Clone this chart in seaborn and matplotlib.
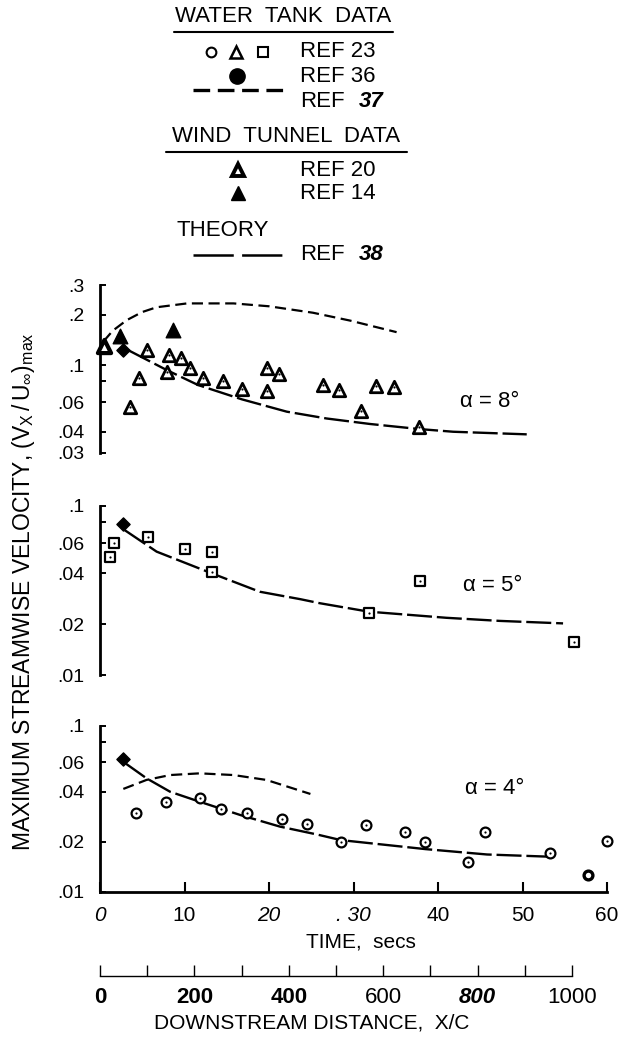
import matplotlib
matplotlib.use("Agg")
import matplotlib.pyplot as plt
import seaborn as sns
import numpy as np

# ---------------- data ----------------
# alpha = 8 deg panel
t8_ref23 = [3.55, 4.58, 5.6, 7.97, 8.17, 9.55, 10.65, 12.23, 14.6, 16.77, 19.72, 19.72,
            21.2, 26.4, 28.3, 30.85, 32.7, 34.8, 37.8]
v8_ref23 = [0.0564, 0.0833, 0.1229, 0.0912, 0.1148, 0.1106, 0.0956, 0.0833, 0.0803, 0.072,
            0.0956, 0.0703, 0.0884, 0.076, 0.071, 0.0534, 0.0753, 0.0737, 0.0425]
t8_ref20 = [0.47]
v8_ref20 = [0.1298]
t8_ref14 = [2.37, 8.68]
v8_ref14 = [0.1496, 0.1617]
t8_ref36 = [2.68]
v8_ref36 = [0.1229]
t8_ref37 = [0.4, 1.5, 3.15, 5.0, 6.7, 10.3, 15.8, 20.0, 25.2, 29.6, 35.1]
v8_ref37 = [0.138, 0.16, 0.185, 0.207, 0.221, 0.233, 0.233, 0.224, 0.205, 0.184, 0.157]
t8_ref38 = [3.3, 7.9, 11.6, 16.8, 22.1, 26.8, 31.95, 37.8, 41.8, 50.5]
v8_ref38 = [0.1229, 0.0933, 0.076, 0.0624, 0.0527, 0.048, 0.0445, 0.0415, 0.040, 0.0386]

# alpha = 5 deg panel
t5_ref23 = [1.18, 1.7, 5.64, 10.1, 13.2, 13.2, 31.8, 37.9, 56.1]
v5_ref23 = [0.0501, 0.0607, 0.0659, 0.0557, 0.0532, 0.0405, 0.0232, 0.036, 0.0157]
t5_ref36 = [2.68]
v5_ref36 = [0.0779]
t5_ref38 = [2.9, 6.7, 13.2, 18.9, 23.7, 26.0, 31.8, 41.0, 47.3, 54.8]
v5_ref38 = [0.0721, 0.0537, 0.040, 0.0311, 0.0281, 0.0266, 0.0237, 0.0218, 0.0209, 0.0202]

# alpha = 4 deg panel
t4_ref23 = [4.26, 7.81, 11.83, 14.3, 17.43, 21.5, 24.5, 28.5, 31.5, 36.1, 38.5, 43.6,
            45.6, 53.2, 60.0]
v4_ref23 = [0.0297, 0.0346, 0.0368, 0.0314, 0.0297, 0.0274, 0.0255, 0.020, 0.0253, 0.023,
            0.020, 0.0151, 0.023, 0.0171, 0.0202]
t4_ref23_plain = [57.7]
v4_ref23_plain = [0.01265]
t4_ref36 = [2.76]
v4_ref36 = [0.0627]
t4_ref37 = [2.76, 5.5, 8.3, 11.8, 15.8, 19.7, 24.9]
v4_ref37 = [0.0416, 0.0471, 0.0504, 0.0516, 0.0504, 0.0471, 0.0388]
t4_ref38 = [2.9, 5.5, 8.3, 11.83, 16.6, 21.3, 25.6, 28.5, 38.5, 45.8, 53.1]
v4_ref38 = [0.0598, 0.0482, 0.040, 0.0348, 0.029, 0.0247, 0.0222, 0.0205, 0.0181, 0.0168, 0.0163]

# axes ticks / labels
time_ticks = [0, 10, 20, 30, 40, 50, 60]
time_labels = ["0", "10", "20", ". 30", "40", "50", "60"]
dist_ticks = [0, 100, 200, 300, 400, 500, 600, 700, 800, 900, 1000]
dist_labels = ["0", "", "200", "", "400", "", "600", "", "800", "", "1000"]
dist_per_sec = 17.9
yt8 = [0.3, 0.2, 0.1, 0.08, 0.06, 0.04, 0.03]
yl8 = [".3", ".2", ".1", "", ".06", ".04", ".03"]
yt5 = [0.1, 0.08, 0.06, 0.04, 0.02, 0.01]
yl5 = [".1", "", ".06", ".04", ".02", ".01"]
yt4 = [0.1, 0.08, 0.06, 0.04, 0.02, 0.01]
yl4 = [".1", "", ".06", ".04", ".02", ".01"]

# ---------------- style ----------------
sns.set_theme(style="white")
plt.rcParams['font.family'] = ['Liberation Sans', 'DejaVu Sans']
plt.rcParams['mathtext.fontset'] = 'custom'
plt.rcParams['mathtext.rm'] = 'Liberation Sans'
plt.rcParams['mathtext.it'] = 'Liberation Sans:italic'
plt.rcParams['mathtext.bf'] = 'Liberation Sans:bold'
plt.rcParams['lines.scale_dashes'] = False
plt.rcParams['text.color'] = 'black'
plt.rcParams['axes.edgecolor'] = 'black'
plt.rcParams['xtick.color'] = 'black'
plt.rcParams['ytick.color'] = 'black'

W, H = 628, 1040
fig = plt.figure(figsize=(W / 100, H / 100), dpi=100)
fig.patch.set_facecolor('white')


def px_axes(left, top, right, bottom):
    return fig.add_axes([left / W, 1 - bottom / H, (right - left) / W, (bottom - top) / H])


ax8 = px_axes(100, 285, 607, 452.7)
ax5 = px_axes(100, 506, 607, 675)
ax4 = px_axes(100, 725.5, 607, 892)
axd = px_axes(100, 950, 607, 976)

DASH37 = (0, (8, 4))
DASH38 = (0, (18, 3.5))


def open_markers(ax, t, v, marker, s, lw):
    sns.scatterplot(x=t, y=v, marker=marker, s=s, color='white', edgecolor='black',
                    linewidth=lw, ax=ax, zorder=4, clip_on=False)
    sns.scatterplot(x=t, y=v, marker='o', s=2.5, color='black', edgecolor='black',
                    linewidth=0, ax=ax, zorder=5, clip_on=False)


def style_panel(ax, ylim, yt, yl, show_x):
    ax.set_yscale('log')
    ax.set_xlim(0, 60)
    ax.set_ylim(*ylim)
    ax.set_yticks(yt)
    ax.set_yticklabels(yl)
    ax.yaxis.set_minor_locator(matplotlib.ticker.NullLocator())
    ax.tick_params(axis='y', direction='in', length=4, width=1.4, labelsize=14, pad=11,
                   left=True)
    ax.spines['left'].set_linewidth(2.0)
    for sp in ['top', 'right']:
        ax.spines[sp].set_visible(False)
    ax.set_facecolor('none')
    if show_x:
        ax.set_xticks(time_ticks)
        ax.set_xticklabels(time_labels)
        ax.tick_params(axis='x', direction='in', length=7, width=1.5, labelsize=15, pad=10,
                       bottom=True)
        ax.spines['bottom'].set_linewidth(2.0)
        for lab, txt in zip(ax.get_xticklabels(), time_labels):
            if txt in ("0", "20", ". 30"):
                lab.set_style('italic')
    else:
        ax.spines['bottom'].set_visible(False)
        ax.tick_params(axis='x', bottom=False, labelbottom=False)
    ax.set_xlabel('')
    ax.set_ylabel('')


# ---- alpha = 8 ----
sns.lineplot(x=t8_ref37, y=v8_ref37, ax=ax8, color='black', lw=1.6, linestyle=DASH37,
             sort=False, errorbar=None)
sns.lineplot(x=t8_ref38, y=v8_ref38, ax=ax8, color='black', lw=1.7, linestyle=DASH38,
             sort=False, errorbar=None)
open_markers(ax8, t8_ref23, v8_ref23, '^', 80, 2.0)
sns.scatterplot(x=t8_ref20, y=v8_ref20, marker='^', s=90, color='white', edgecolor='black',
                linewidth=3.0, ax=ax8, zorder=4, clip_on=False)
sns.scatterplot(x=t8_ref14, y=v8_ref14, marker='^', s=110, color='black', edgecolor='black',
                linewidth=1, ax=ax8, zorder=4, clip_on=False)
sns.scatterplot(x=t8_ref36, y=v8_ref36, marker='D', s=45, color='black', edgecolor='black',
                linewidth=1, ax=ax8, zorder=4, clip_on=False)
style_panel(ax8, (0.03, 0.3), yt8, yl8, False)
ax8.text(42.6, 0.0604, "α = 8°", fontsize=16, va='center', ha='left')

# ---- alpha = 5 ----
sns.lineplot(x=t5_ref38, y=v5_ref38, ax=ax5, color='black', lw=1.7, linestyle=DASH38,
             sort=False, errorbar=None)
open_markers(ax5, t5_ref23, v5_ref23, 's', 55, 1.6)
sns.scatterplot(x=t5_ref36, y=v5_ref36, marker='D', s=45, color='black', edgecolor='black',
                linewidth=1, ax=ax5, zorder=4, clip_on=False)
style_panel(ax5, (0.01, 0.1), yt5, yl5, False)
ax5.text(42.9, 0.0338, "α = 5°", fontsize=16, va='center', ha='left')

# ---- alpha = 4 ----
sns.lineplot(x=t4_ref37, y=v4_ref37, ax=ax4, color='black', lw=1.6, linestyle=DASH37,
             sort=False, errorbar=None)
sns.lineplot(x=t4_ref38, y=v4_ref38, ax=ax4, color='black', lw=1.7, linestyle=DASH38,
             sort=False, errorbar=None)
open_markers(ax4, t4_ref23, v4_ref23, 'o', 50, 1.6)
sns.scatterplot(x=t4_ref23_plain, y=v4_ref23_plain, marker='o', s=40, color='white',
                edgecolor='black', linewidth=2.4, ax=ax4, zorder=4, clip_on=False)
sns.scatterplot(x=t4_ref36, y=v4_ref36, marker='D', s=45, color='black', edgecolor='black',
                linewidth=1, ax=ax4, zorder=4, clip_on=False)
style_panel(ax4, (0.01, 0.1), yt4, yl4, True)
ax4.text(43.2, 0.042, "α = 4°", fontsize=16, va='center', ha='left')

# ---- downstream distance scale ----
axd.set_xlim(0, 60 * dist_per_sec)
axd.set_ylim(0, 1)
axd.set_yticks([])
axd.set_xticks(dist_ticks)
axd.set_xticklabels(dist_labels)
axd.tick_params(axis='x', direction='in', length=8, width=1.0, labelsize=16, pad=8, bottom=True)
for sp in ['top', 'right', 'left']:
    axd.spines[sp].set_visible(False)
axd.spines['bottom'].set_linewidth(1.0)
axd.spines['bottom'].set_bounds(0, 1000)
axd.set_facecolor('none')
for lab, txt in zip(axd.get_xticklabels(), dist_labels):
    if txt in ("0", "200", "400"):
        lab.set_weight('bold')
    if txt == "800":
        lab.set_weight('bold')
        lab.set_style('italic')

# ---- axis titles ----
fig.text(361 / W, 1 - 942 / H, "TIME,  secs", fontsize=15, ha='center', va='center')
fig.text(312 / W, 1 - 1023 / H, "DOWNSTREAM DISTANCE,  X/C", fontsize=15, ha='center',
         va='center')
fig.text(24 / W, 1 - 592 / H,
         r"MAXIMUM STREAMWISE VELOCITY, $(\mathrm{V}_{\mathrm{X}}\,/\,\mathrm{U}_{\infty})_{\mathrm{max}}$",
         fontsize=16.5, rotation=90, ha='center', va='center')

# ---- key (legend) drawn in pixel coordinates ----
key = fig.add_axes([0, 0, 1, 1])
key.set_xlim(0, W)
key.set_ylim(H, 0)
key.axis('off')
key.patch.set_alpha(0)
fs = 16
key.text(283.5, 16.7, "WATER  TANK  DATA", fontsize=fs, ha='center', va='center')
key.plot([174, 393], [32.3, 32.3], color='black', lw=1.5)
key.plot([211], [51.7], marker='o', ms=7, mfc='white', mec='black', mew=1.5)
key.plot([236], [51.7], marker='^', ms=8, mfc='white', mec='black', mew=1.8)
key.plot([263], [51.7], marker='s', ms=7, mfc='white', mec='black', mew=1.5)
key.text(300, 51.7, "REF 23", fontsize=fs, ha='left', va='center')
key.plot([237], [76], marker='o', ms=11, color='black')
key.text(300, 76, "REF 36", fontsize=fs, ha='left', va='center')
key.plot([193, 287], [90, 90], color='black', lw=2.4, linestyle=(0, (12, 5.5)))
key.text(300, 101.7, "REF", fontsize=fs, ha='left', va='center')
key.text(359, 101.7, "37", fontsize=fs, ha='left', va='center', weight='bold', style='italic')
key.text(286, 136.7, "WIND  TUNNEL  DATA", fontsize=fs, ha='center', va='center')
key.plot([166, 406.7], [151.7, 151.7], color='black', lw=1.5)
key.plot([238.3], [170], marker='^', ms=8, mfc='white', mec='black', mew=2.8)
key.text(300, 170, "REF 20", fontsize=fs, ha='left', va='center')
key.plot([238.3], [193.3], marker='^', ms=10, color='black')
key.text(300, 193.3, "REF 14", fontsize=fs, ha='left', va='center')
key.text(176.7, 230, "THEORY", fontsize=fs, ha='left', va='center')
key.plot([193, 281.7], [255, 255], color='black', lw=1.8, linestyle=(0, (29, 6)))
key.text(300, 255, "REF", fontsize=fs, ha='left', va='center')
key.text(359, 255, "38", fontsize=fs, ha='left', va='center', weight='bold', style='italic')

fig.savefig("out.png", dpi=100, facecolor='white')
